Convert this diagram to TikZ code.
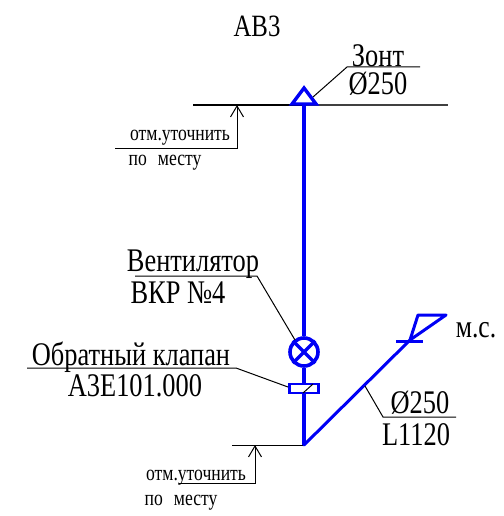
\documentclass[tikz,border=0pt]{standalone}
\usepackage{fontspec}
\setmainfont{Liberation Serif}
\newfontfamily\narrowfont[FakeStretch=0.8]{Liberation Serif}
\usetikzlibrary{arrows.meta}
\definecolor{pipeblue}{RGB}{0,0,245}
\tikzset{
  x=1pt,y=-1pt,
  pipe/.style={draw=pipeblue,line width=3.4pt},
  pipethin/.style={draw=pipeblue,line width=3pt},
  leader/.style={draw=black,line width=1pt},
  level/.style={draw=black,line width=1.4pt},
  elev/.style={draw=black,line width=1pt,{Straight Barb[length=11pt,width=13pt,line width=1pt]}-},
  big/.style={inner sep=0pt,font=\narrowfont\fontsize{33}{33}\selectfont},
  ttl/.style={inner sep=0pt,font=\narrowfont\fontsize{31}{31}\selectfont},
  mid/.style={inner sep=0pt,font=\narrowfont\fontsize{32}{32}\selectfont},
  small/.style={inner sep=0pt,font=\narrowfont\fontsize{22}{22}\selectfont},
}
\begin{document}
\begin{tikzpicture}
\useasboundingbox (0,0) rectangle (503,516);
% coordinates
\coordinate (topL) at (193,105);
\coordinate (topR) at (448,105);
\coordinate (base) at (304,445);
\coordinate (top) at (304,105);
\coordinate (botL) at (232,445);
\coordinate (ta) at (304,88);
\coordinate (tl) at (292,104);
\coordinate (tr) at (316,104);
\coordinate (bend) at (410,340);
\coordinate (flagA) at (418,315);
\coordinate (flagB) at (446,315);
\coordinate (tickL) at (396,341);
\coordinate (tickR) at (423,341);
% levels
\draw[level] (topL) -- (top);
\draw[draw=black!75,line width=1.4pt] (top) -- (topR);
\draw[level,line width=1pt] (botL) -- (base);
% pipe
\node[circle,draw=pipeblue,line width=3.6pt,minimum size=28pt,inner sep=0pt] (fan) at (304,352) {};
\node[rectangle,draw=pipeblue,line width=2.4pt,minimum width=29pt,minimum height=9pt,inner sep=0pt] (damper) at (304,388.5) {};
\draw[pipe] (top) -- (fan.north);
\draw[pipe] (fan.south) -- (damper.north);
\draw[pipe] (damper.south) -- (base);
\draw[pipe] (fan.north west) -- (fan.south east);
\draw[pipe] (fan.south west) -- (fan.north east);
\draw[pipe,line join=miter] (ta) -- (tr) -- (tl) -- cycle;
\draw[pipethin,line cap=round] (base) -- (bend);
\draw[pipethin,line join=round] (bend) -- (flagA) -- (flagB) -- cycle;
\draw[pipethin] (tickL) -- (tickR);
% texts
\node[ttl] (title) at (257,26) {АВ3};
\node[big] (zont) at (378,56) {Зонт};
\node[big] (zd) at (378,84) {Ø250};
\node[small] (otm1) at (180,138) {отм.уточнить};
\node[small] (po1) at (165,163) {по\,\,\,месту};
\node[big] (vent) at (193,264) {Вентилятор};
\node[big] (vkr) at (178,293) {ВКР №4};
\node[big] (obr) at (131,357) {Обратный клапан};
\node[big] (aze) at (135,386) {А3Е101.000};
\node[mid] (ms) at (476,330) {м.с.};
\node[big] (d2) at (420,403) {Ø250};
\node[big] (l2) at (416,435) {L1120};
\node[small] (otm2) at (196,478) {отм.уточнить};
\node[small] (po2) at (181,503) {по\,\,\,месту};
% leaders
\coordinate (z0) at (313,97); \coordinate (z1) at (347,67); \coordinate (z2) at (420,67);
\draw[leader] (z0) -- (z1) -- (z2);
\coordinate (v0) at (135,276); \coordinate (v1) at (257,276); \coordinate (v2) at (295,340);
\draw[leader] (v0) -- (v1) -- (v2);
\coordinate (o0) at (27,368); \coordinate (o1) at (236,368); \coordinate (o2) at (288,387);
\draw[leader] (o0) -- (o1) -- (o2);
\coordinate (t0) at (303,393); \coordinate (t1) at (313,384);
\draw[leader] (t0) -- (t1);
\coordinate (d0) at (365,386); \coordinate (d1) at (383,417); \coordinate (d2b) at (456,417);
\draw[leader] (d0) -- (d1) -- (d2b);
% elevation marks
\coordinate (e1) at (237,105); \coordinate (e1a) at (237,148); \coordinate (e1b) at (115,148);
\draw[elev] (e1) -- (e1a) -- (e1b);
\coordinate (e2) at (255,445); \coordinate (e2a) at (255,483); \coordinate (e2b) at (179,483);
\draw[elev] (e2) -- (e2a) -- (e2b);
\end{tikzpicture}
\end{document}
